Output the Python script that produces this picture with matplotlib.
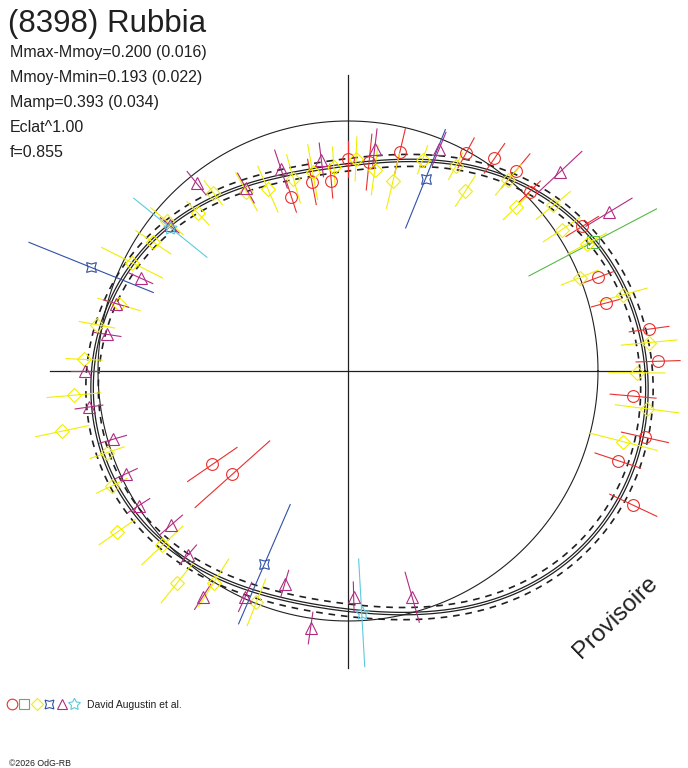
import numpy as np
import matplotlib
matplotlib.use('Agg')
import matplotlib.pyplot as plt

plt.rcParams['font.family'] = ['Liberation Sans', 'DejaVu Sans']

title = "(8398) Rubbia"
info_lines = ["Mmax-Mmoy=0.200 (0.016)", "Mmoy-Mmin=0.193 (0.022)",
              "Mamp=0.393 (0.034)", "Eclat^1.00", "f=0.855"]
observer = "David Augustin et al."
credit = "\u00a92026 OdG-RB"
stamp = "Provisoire"

# phase: 0 at top, clockwise; radius: 1 = mean level; err: half length of bar
red_phase = [0.950, 0.970, 0.986, 0.000, 0.016, 0.037, 0.079, 0.096, 0.111, 0.126, 0.162,
             0.193, 0.209, 0.228, 0.245, 0.264, 0.285, 0.301, 0.320, 0.654, 0.634]
red_r = [0.732, 0.770, 0.763, 0.848, 0.840, 0.900, 0.992, 1.033, 1.045, 1.021, 1.101,
         1.068, 1.067, 1.216, 1.241, 1.145, 1.217, 1.137, 1.261, 0.659, 0.620]
red_err = [0.064, 0.092, 0.068, 0.072, 0.112, 0.096, 0.068, 0.072, 0.088, 0.060, 0.076,
           0.072, 0.060, 0.080, 0.088, 0.092, 0.096, 0.096, 0.104, 0.120, 0.200]

green_phase = [0.173]
green_r = [1.106]
green_err = [0.288]

yellow_phase = [0.934, 0.918, 0.956, 0.972, 0.989, 0.006, 0.021, 0.037, 0.054, 0.077,
                0.092, 0.111, 0.127, 0.142, 0.157, 0.172, 0.189, 0.207, 0.235, 0.251,
                0.270, 0.290, 0.560, 0.590, 0.608, 0.630, 0.653, 0.678, 0.698, 0.717,
                0.736, 0.757, 0.779, 0.795, 0.824, 0.843, 0.860, 0.879, 0.897]
yellow_r = [0.795, 0.824, 0.799, 0.808, 0.818, 0.849, 0.811, 0.781, 0.896, 0.925,
            0.859, 0.999, 0.939, 1.055, 1.025, 1.083, 1.000, 1.141, 1.210, 1.156,
            1.206, 1.136, 0.995, 1.003, 1.090, 1.019, 1.126, 1.050, 1.017, 1.169,
            1.100, 1.057, 1.021, 0.954, 0.966, 0.933, 0.940, 0.871, 0.894]
yellow_err = [0.100, 0.088, 0.100, 0.112, 0.080, 0.088, 0.100, 0.112, 0.060, 0.060,
              0.072, 0.080, 0.072, 0.088, 0.088, 0.088, 0.080, 0.100, 0.112, 0.112,
              0.128, 0.140, 0.100, 0.112, 0.100, 0.112, 0.088, 0.068, 0.072, 0.108,
              0.108, 0.072, 0.072, 0.088, 0.136, 0.084, 0.084, 0.064, 0.060]

blue_phase = [0.811, 0.061, 0.565]
blue_r = [1.108, 0.829, 0.842]
blue_err = [0.268, 0.212, 0.260]

magenta_phase = [0.892, 0.919, 0.949, 0.980, 0.019, 0.062, 0.130, 0.163, 0.859, 0.817,
                 0.795, 0.774, 0.750, 0.728, 0.705, 0.681, 0.659, 0.636, 0.614, 0.591,
                 0.568, 0.546, 0.523, 0.496, 0.456]
magenta_r = [0.965, 0.838, 0.851, 0.851, 0.895, 0.960, 1.163, 1.222, 0.921, 0.908,
             0.966, 0.975, 1.052, 1.046, 0.979, 0.977, 0.995, 0.938, 0.975, 1.074,
             0.993, 0.888, 1.039, 0.904, 0.941]
magenta_err = [0.060, 0.068, 0.080, 0.068, 0.080, 0.072, 0.120, 0.108, 0.048, 0.052,
               0.052, 0.056, 0.056, 0.056, 0.056, 0.048, 0.052, 0.060, 0.052, 0.060,
               0.064, 0.056, 0.064, 0.060, 0.104]

cyan_phase = [0.858, 0.491]
cyan_r = [0.913, 0.969]
cyan_err = [0.188, 0.216]

# Fourier fit of the light curve (angle measured counter-clockwise from +x)
fit_a0 = 1.005
fit_cos = [0.091, 0.108, -0.005, -0.011]
fit_sin = [-0.071, -0.002, -0.005, 0.0]
band_lo, band_hi = -0.020, 0.030
second_fit = 0.010

groups = [
    (red_phase, red_r, red_err, '#e8302e', 'o', 8.5),
    (green_phase, green_r, green_err, '#58b848', 's', 8),
    (yellow_phase, yellow_r, yellow_err, '#f0ee00', 'D', 7),
    (blue_phase, blue_r, blue_err, '#3050a8', (4, 1, 45), 10),
    (magenta_phase, magenta_r, magenta_err, '#b02c80', '^', 8.5),
    (cyan_phase, cyan_r, cyan_err, '#60c8e0', (5, 1, 0), 10),
]

fig = plt.figure(figsize=(6.88, 7.68), dpi=100)
ax = fig.add_axes([0, 0, 1, 1])
ax.set_xlim(-348 / 250, 340 / 250)
ax.set_ylim(-397 / 250, 371 / 250)
ax.axis('off')

# axes cross
ax.plot([0, 0], [-1.188, 1.184], color='#202020', lw=0.9, zorder=1)
ax.plot([-1.192, 1.196], [0, 0], color='#202020', lw=0.9, zorder=1)

# mean circle
t = np.linspace(0, 2 * np.pi, 721)
ax.plot(np.cos(t), np.sin(t), color='#202020', lw=0.8, zorder=1)

# fitted curve
rf = np.full_like(t, fit_a0)
for k, (a, b) in enumerate(zip(fit_cos, fit_sin), start=1):
    rf += a * np.cos(k * t) + b * np.sin(k * t)
ax.plot(rf * np.cos(t), rf * np.sin(t), color='#202020', lw=0.9, zorder=1)
r2 = rf + second_fit
ax.plot(r2 * np.cos(t), r2 * np.sin(t), color='#202020', lw=0.9, zorder=1)
for off in (band_lo, band_hi):
    rr = rf + off
    ax.plot(rr * np.cos(t), rr * np.sin(t), color='#202020', lw=1.2,
            dashes=(4, 3.5), zorder=1)

# observations with radial error bars
for ph, r, e, col, mk, ms in groups:
    ph = np.array(ph)
    r = np.array(r)
    e = np.array(e)
    ang = np.pi / 2 - 2 * np.pi * ph
    for a, rv, ev in zip(ang, r, e):
        ax.plot([(rv - ev) * np.cos(a), (rv + ev) * np.cos(a)],
                [(rv - ev) * np.sin(a), (rv + ev) * np.sin(a)],
                color=col, lw=0.8, zorder=2)
    ax.plot(r * np.cos(ang), r * np.sin(ang), ls='none', marker=mk, ms=ms,
            mfc='none', mec=col, mew=0.8, zorder=3)

# texts
fig.text(8 / 688, 1 - 32 / 768, title, fontsize=22.5, va='baseline', color='#202020')
for i, line in enumerate(info_lines):
    fig.text(10 / 688, 1 - (57 + 25 * i) / 768, line, fontsize=11.5,
             va='baseline', color='#202020')

fig.text(616 / 688, 1 - 617 / 768, stamp, fontsize=17.5, rotation=44,
         ha='center', va='center', color='#202020')

# legend row of observer symbols
for i, (ph, r, e, col, mk, ms) in enumerate(groups):
    fig.lines.append(matplotlib.lines.Line2D([(12 + 12.4 * i) / 688], [1 - 704 / 768],
                                             transform=fig.transFigure, ls='none',
                                             marker=mk, ms=ms * 0.9, mfc='none',
                                             mec=col, mew=0.8))
fig.text(87 / 688, 1 - 708 / 768, observer, fontsize=7.5, va='baseline', color='#202020')
fig.text(9 / 688, 1 - 766 / 768, credit, fontsize=6.3, va='baseline', color='#202020')

fig.savefig('out.png', dpi=100)
